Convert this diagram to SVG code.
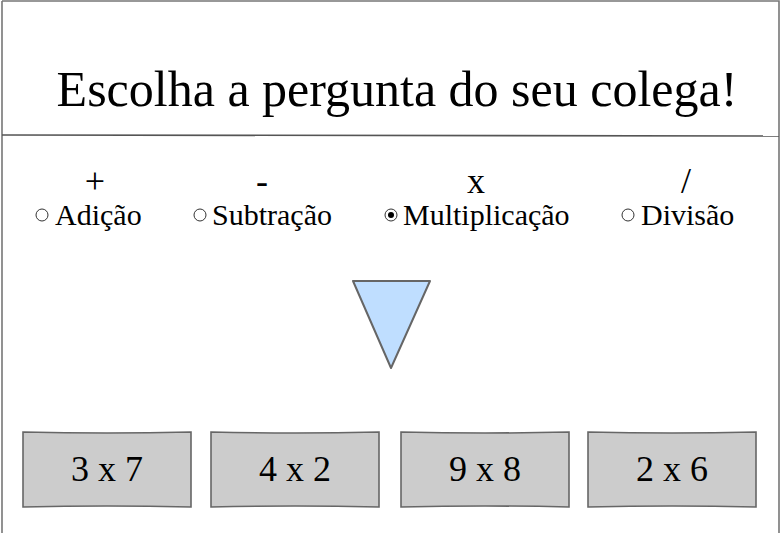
<svg xmlns="http://www.w3.org/2000/svg" width="780" height="533" viewBox="0 0 780 533">
<style>
.t{font-family:"Liberation Serif","Times New Roman",serif;fill:#000}
.title{font-size:50px;text-anchor:middle}
.sym{font-size:36px;text-anchor:middle}
.lbl{font-size:30px}
.btn{fill:#cccccc;stroke:#666666;stroke-width:1.6}
.btxt{font-size:36px;text-anchor:middle}
.radio{fill:#ffffff;stroke:#333333;stroke-width:1}
</style>
<rect width="780" height="533" fill="#ffffff"/>
<g id="frame">
<path d="M2,1 L779,1 L779,545 M2,1 L2,545" fill="none" stroke="#777777" stroke-width="1.6"/>
<path d="M2,135 Q390,134 779,136" fill="none" stroke="#555555" stroke-width="1.6"/>
</g>
<g id="title"><text class="t title" x="397" y="106">Escolha a pergunta do seu colega!</text></g>
<g id="opt-add">
<text class="t sym" x="95" y="193">+</text>
<circle class="radio" cx="42" cy="215" r="6"/>
<text class="t lbl" x="55" y="225">Adição</text>
</g>
<g id="opt-sub">
<text class="t sym" x="262" y="193">-</text>
<circle class="radio" cx="200" cy="215" r="6"/>
<text class="t lbl" x="212" y="225">Subtração</text>
</g>
<g id="opt-mul">
<text class="t sym" x="476" y="193">x</text>
<circle class="radio" cx="391" cy="215" r="6"/>
<circle cx="391" cy="215" r="3" fill="#000000"/>
<text class="t lbl" x="403" y="225">Multiplicação</text>
</g>
<g id="opt-div">
<text class="t sym" x="686" y="193">/</text>
<circle class="radio" cx="628" cy="215" r="6"/>
<text class="t lbl" x="641" y="225">Divisão</text>
</g>
<g id="triangle">
<path d="M353,281 L430,281 L391,368 Z" fill="#bfdeff" stroke="#666666" stroke-width="2" stroke-linejoin="round"/>
</g>
<g id="btn1">
<path class="btn" d="M23,432 Q107,434 191,432 L191,507 Q107,505 23,507 Z"/>
<text class="t btxt" x="107" y="481">3 x 7</text>
</g>
<g id="btn2">
<path class="btn" d="M211,432 Q295,434 379,432 L379,507 Q295,505 211,507 Z"/>
<text class="t btxt" x="295" y="481">4 x 2</text>
</g>
<g id="btn3">
<path class="btn" d="M401,432 Q485,434 569,432 L569,507 Q485,505 401,507 Z"/>
<text class="t btxt" x="485" y="481">9 x 8</text>
</g>
<g id="btn4">
<path class="btn" d="M588,432 Q672,434 756,432 L756,507 Q672,505 588,507 Z"/>
<text class="t btxt" x="672" y="481">2 x 6</text>
</g>
<g id="connectors"></g>
</svg>
